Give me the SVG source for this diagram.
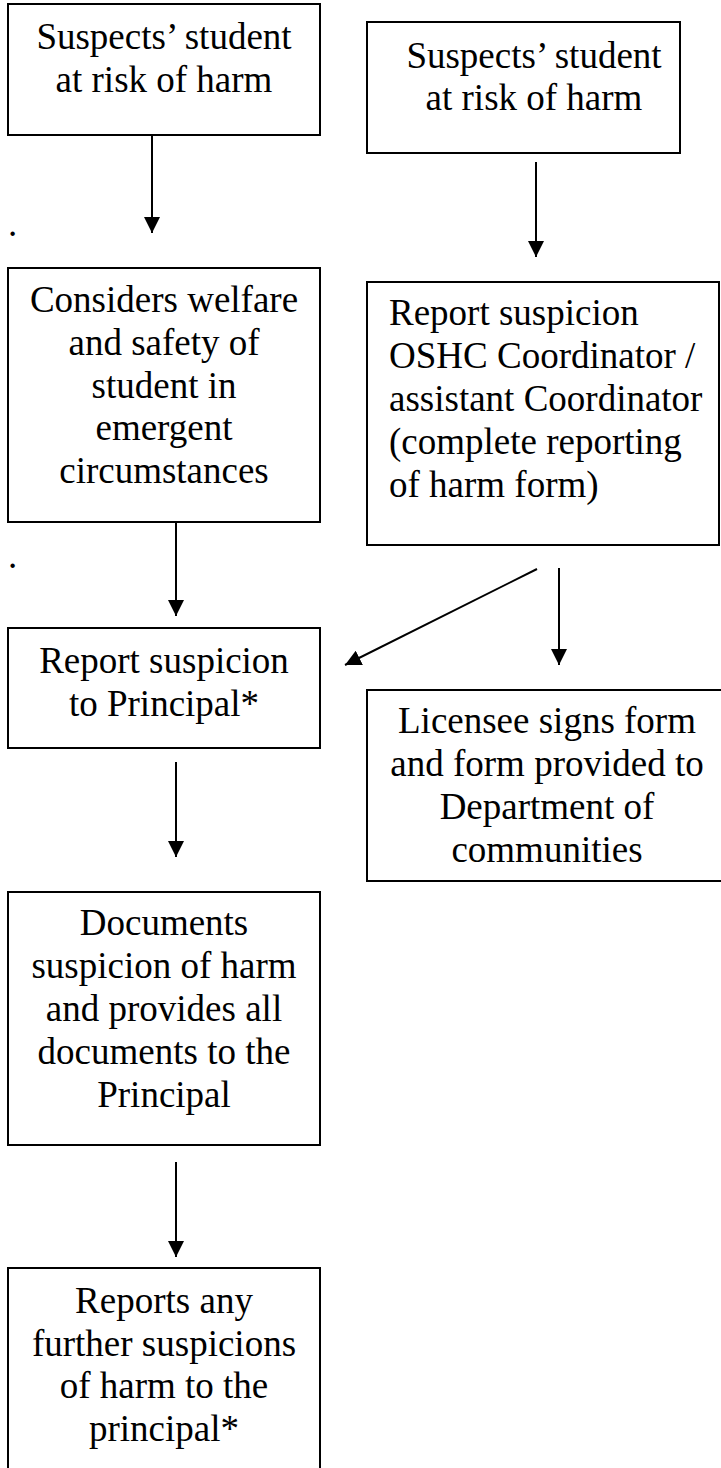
<svg xmlns="http://www.w3.org/2000/svg" width="721" height="1468" viewBox="0 0 721 1468">
<style>
.box{fill:#fff;stroke:#000;stroke-width:2}
.t{font-family:"Liberation Serif","Times New Roman",serif;font-size:37px;fill:#000}
.c{text-anchor:middle}
.conn{stroke:#000;stroke-width:2;fill:none}
</style>
<defs>
<marker id="ah" markerUnits="userSpaceOnUse" markerWidth="16" markerHeight="16" refX="16" refY="8" orient="auto">
<path d="M0,0 L16,8 L0,16 z" fill="#000"/>
</marker>
</defs>
<rect width="721" height="1468" fill="#fff"/>
<g id="n1">
<rect class="box" x="8" y="4" width="312" height="131"/>
<text class="t c" x="164" y="49">Suspects’ student</text>
<text class="t c" x="164" y="92">at risk of harm</text>
</g>
<g id="n2">
<rect class="box" x="367" y="22" width="313" height="131"/>
<text class="t c" x="534" y="68">Suspects’ student</text>
<text class="t c" x="534" y="110">at risk of harm</text>
</g>
<g id="n3">
<rect class="box" x="8" y="268" width="312" height="254"/>
<text class="t c" x="164" y="312">Considers welfare</text>
<text class="t c" x="164" y="355">and safety of</text>
<text class="t c" x="164" y="398">student in</text>
<text class="t c" x="164" y="440">emergent</text>
<text class="t c" x="164" y="483">circumstances</text>
</g>
<g id="n4">
<rect class="box" x="367" y="282" width="352" height="263"/>
<text class="t" x="389" y="325">Report suspicion</text>
<text class="t" x="389" y="368">OSHC Coordinator /</text>
<text class="t" x="389" y="411">assistant Coordinator</text>
<text class="t" x="389" y="454">(complete reporting</text>
<text class="t" x="389" y="497">of harm form)</text>
</g>
<g id="n5">
<rect class="box" x="8" y="628" width="312" height="120"/>
<text class="t c" x="164" y="673">Report suspicion</text>
<text class="t c" x="164" y="716">to Principal*</text>
</g>
<g id="n6">
<rect class="box" x="367" y="690" width="362" height="191"/>
<text class="t c" x="547" y="733">Licensee signs form</text>
<text class="t c" x="547" y="776">and form provided to</text>
<text class="t c" x="547" y="819">Department of</text>
<text class="t c" x="547" y="862">communities</text>
</g>
<g id="n7">
<rect class="box" x="8" y="892" width="312" height="253"/>
<text class="t c" x="164" y="935">Documents</text>
<text class="t c" x="164" y="978">suspicion of harm</text>
<text class="t c" x="164" y="1021">and provides all</text>
<text class="t c" x="164" y="1064">documents to the</text>
<text class="t c" x="164" y="1107">Principal</text>
</g>
<g id="n8">
<rect class="box" x="8" y="1268" width="312" height="220"/>
<text class="t c" x="164" y="1313">Reports any</text>
<text class="t c" x="164" y="1356">further suspicions</text>
<text class="t c" x="164" y="1398">of harm to the</text>
<text class="t c" x="164" y="1441">principal*</text>
</g>
<g id="dots">
<text class="t" x="8" y="236">.</text>
<text class="t" x="8" y="568">.</text>
</g>
<g id="connectors">
<line class="conn" x1="152" y1="135" x2="152" y2="233" marker-end="url(#ah)"/>
<line class="conn" x1="536" y1="162" x2="536" y2="257" marker-end="url(#ah)"/>
<line class="conn" x1="176" y1="522" x2="176" y2="616" marker-end="url(#ah)"/>
<line class="conn" x1="537" y1="569" x2="345" y2="665" marker-end="url(#ah)"/>
<line class="conn" x1="559" y1="568" x2="559" y2="665" marker-end="url(#ah)"/>
<line class="conn" x1="176" y1="762" x2="176" y2="857" marker-end="url(#ah)"/>
<line class="conn" x1="176" y1="1162" x2="176" y2="1257" marker-end="url(#ah)"/>
</g>
</svg>
